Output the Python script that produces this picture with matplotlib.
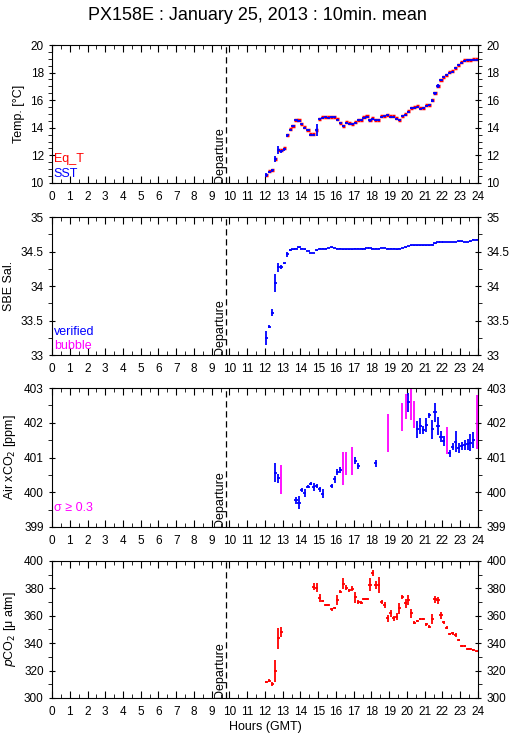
import numpy as np
import matplotlib
matplotlib.use("Agg")
import matplotlib.pyplot as plt
from matplotlib.ticker import MultipleLocator, FormatStrFormatter

plt.rcParams['font.family'] = ['Liberation Sans', 'DejaVu Sans']

nan = np.nan

# 10 min bin centres (hours GMT)
hours = [12.08, 12.25, 12.42, 12.58, 12.75, 12.92, 13.08, 13.25, 13.42, 13.58, 13.75, 13.92,
         14.08, 14.25, 14.42, 14.58, 14.75, 14.92, 15.08, 15.25, 15.42, 15.58, 15.75, 15.92,
         16.08, 16.25, 16.42, 16.58, 16.75, 16.92, 17.08, 17.25, 17.42, 17.58, 17.75, 17.92,
         18.08, 18.25, 18.42, 18.58, 18.75, 18.92, 19.08, 19.25, 19.42, 19.58, 19.75, 19.92,
         20.08, 20.25, 20.42, 20.58, 20.75, 20.92, 21.08, 21.25, 21.42, 21.58, 21.75, 21.92,
         22.08, 22.25, 22.42, 22.58, 22.75, 22.92, 23.08, 23.25, 23.42, 23.58, 23.75, 23.92]
departure = 9.83

sst = [10.56, 10.80, 10.92, 11.72, 12.37, 12.30, 12.45, 13.46, 13.87, 14.12,
       14.55, 14.50, 14.24, 14.00, 13.83, 13.50, 13.50, 13.83, 14.62, 14.70,
       14.75, 14.72, 14.75, 14.75, 14.60, 14.33, 14.12, 14.36, 14.30, 14.26,
       14.36, 14.55, 14.55, 14.70, 14.80, 14.55, 14.65, 14.55, 14.55, 14.77,
       14.84, 14.90, 14.77, 14.77, 14.67, 14.55, 14.82, 14.94, 15.16, 15.40,
       15.47, 15.50, 15.38, 15.40, 15.60, 15.64, 15.96, 16.49, 17.02, 17.46,
       17.65, 17.82, 17.99, 18.06, 18.30, 18.55, 18.72, 18.84, 18.89, 18.91,
       18.93, 18.93]
sst_err = [0.15, 0.07, 0.12, 0.2, 0.3, 0.1, 0.1, 0.12, 0.05, 0.05,
           0.05, 0.05, 0.07, 0.05, 0.07, 0.05, 0.05, 0.45, 0.05, 0.05,
           0.05, 0.04, 0.04, 0.04, 0.05, 0.05, 0.07, 0.05, 0.04, 0.04,
           0.04, 0.04, 0.04, 0.04, 0.05, 0.1, 0.05, 0.05, 0.04, 0.04,
           0.04, 0.04, 0.04, 0.04, 0.05, 0.05, 0.05, 0.05, 0.07, 0.07,
           0.05, 0.04, 0.05, 0.05, 0.05, 0.05, 0.1, 0.12, 0.15, 0.07,
           0.05, 0.05, 0.05, 0.05, 0.07, 0.05, 0.05, 0.04, 0.04, 0.04,
           0.04, 0.04]
eqt = [10.60, 10.84, 10.96, 11.75, 12.40, 12.36, 12.50, 13.50, 13.90, 14.15,
       14.58, 14.55, 14.30, 14.04, 13.86, 13.55, 13.55, 13.86, 14.66, 14.76,
       14.80, 14.77, 14.80, 14.80, 14.66, 14.38, 14.16, 14.40, 14.34, 14.30,
       14.40, 14.60, 14.60, 14.75, 14.85, 14.59, 14.68, 14.59, 14.59, 14.82,
       14.89, 14.95, 14.82, 14.82, 14.71, 14.59, 14.86, 14.98, 15.20, 15.44,
       15.52, 15.55, 15.42, 15.44, 15.65, 15.68, 15.99, 16.52, 17.05, 17.49,
       17.68, 17.85, 18.02, 18.09, 18.33, 18.58, 18.76, 18.88, 18.93, 18.94,
       18.95, 18.95]

sal = [33.25, 33.41, 33.61, 34.04, 34.27, 34.27, 34.33, 34.46, 34.52, 34.53,
       34.54, 34.56, 34.54, 34.53, 34.51, 34.48, 34.48, 34.52, 34.54, 34.54,
       34.54, 34.55, 34.56, 34.55, 34.54, 34.54, 34.53, 34.53, 34.53, 34.53,
       34.54, 34.54, 34.54, 34.54, 34.55, 34.55, 34.54, 34.54, 34.54, 34.55,
       34.55, 34.54, 34.54, 34.54, 34.53, 34.54, 34.55, 34.56, 34.58, 34.59,
       34.59, 34.59, 34.59, 34.59, 34.59, 34.59, 34.60, 34.62, 34.64, 34.64,
       34.64, 34.64, 34.64, 34.64, 34.64, 34.65, 34.65, 34.64, 34.64, 34.65,
       34.67, 34.67]
sal_err = [0.1, 0.02, 0.05, 0.13, 0.07, 0.03, 0.005, 0.04, 0.01] + [0.005] * 63

xco2 = [nan, nan, nan, 400.56, 400.40, 400.37, nan, nan, nan, nan,
        399.77, 399.70, 400.06, 399.98, 400.16, 400.25, 400.16, 400.18, 400.08, 399.96,
        nan, nan, 400.18, 400.37, 400.59, 400.64, 400.69, 400.83, nan, 400.90,
        400.91, 400.75, nan, nan, nan, nan, nan, 400.83, nan, nan,
        nan, 401.70, nan, nan, nan, nan, 402.16, 402.47, 402.59, 402.55,
        402.25, 401.81, 401.91, 401.80, 401.94, 402.21, 401.81, 402.30, 401.91, 401.60,
        401.48, 401.50, 401.12, 401.31, 401.46, 401.28, 401.33, 401.36, 401.38, 401.43,
        401.50, 402.02]
xco2_err = [0, 0, 0, 0.27, 0.13, 0.42, 0, 0, 0, 0,
            0.1, 0.19, 0.05, 0.12, 0.05, 0.05, 0.12, 0.05, 0.06, 0.14,
            0, 0, 0.05, 0.1, 0.08, 0.1, 0.48, 0.34, 0, 0.4,
            0.1, 0.08, 0, 0, 0, 0, 0, 0.1, 0, 0,
            0, 0.55, 0, 0, 0, 0, 0.4, 0.35, 0.27, 0.46,
            0.39, 0.24, 0.22, 0.12, 0.2, 0.07, 0.28, 0.28, 0.27, 0.15,
            0.15, 0.39, 0.1, 0.1, 0.29, 0.15, 0.12, 0.15, 0.15, 0.24,
            0.24, 0.77]

pco2 = [311.6, 312.6, 310.4, 319.4, 343.6, 347.9, nan, nan, nan, nan,
        nan, nan, nan, nan, nan, nan, 381.1, 380.6, 373.1, 370.7,
        367.6, 367.6, 364.6, 365.9, 371.4, 377.7, 383.5, 380.6, 378.7, 379.9,
        373.4, 370.2, 369.5, 372.2, 372.2, 382.8, 391.3, 382.3, 382.3, 370.2,
        367.8, 358.1, 361.7, 358.1, 359.3, 365.4, 373.8, 369.0, 371.4, 361.7,
        355.0, 356.2, 357.6, 357.6, 353.8, 352.1, 357.6, 371.9, 371.4, 360.5,
        355.2, 351.3, 346.7, 347.2, 346.2, 342.4, 338.0, 338.0, 335.6, 335.6,
        335.1, 334.1]
pco2_err = [1, 1, 1.5, 8, 7.5, 3.6, 0, 0, 0, 0,
            0, 0, 0, 0, 0, 0, 2.5, 3, 3, 1,
            0.8, 0.8, 0.8, 0.8, 3.6, 1, 4, 1.5, 1, 2,
            4, 1.5, 1, 1, 1, 5, 2, 3, 6, 1.5,
            2, 2.5, 2.5, 2, 2.5, 4, 1.5, 3, 3.5, 3,
            1, 1, 1, 0.8, 1, 1, 3.5, 2.5, 2.5, 2.5,
            1, 1, 0.8, 1, 1.5, 1, 0.8, 0.8, 0.8, 0.8,
            0.5, 0.5]

BLUE = '#0000ff'
RED = '#ff0000'
MAG = '#ff00ff'
half = 0.09

fig = plt.figure(figsize=(5.15, 7.39), dpi=100)
boxes = [(0.7524, 0.1867), (0.5196, 0.1867), (0.2869, 0.188), (0.0555, 0.1854)]
axes = [fig.add_axes([0.101, b, 0.827, h]) for b, h in boxes]

h = np.array(hours)

def setup(ax, lo, hi, major, minor, fmt, label):
    ax.set_xlim(0, 24)
    ax.set_ylim(lo, hi)
    ax.xaxis.set_major_locator(MultipleLocator(1))
    ax.xaxis.set_minor_locator(MultipleLocator(0.5))
    ax.yaxis.set_major_locator(MultipleLocator(major))
    ax.yaxis.set_minor_locator(MultipleLocator(minor))
    ax.yaxis.set_major_formatter(FormatStrFormatter(fmt))
    ax.tick_params(axis='x', which='both', direction='in', top=True, bottom=True, labelsize=8.5, pad=6)
    ax.tick_params(axis='x', which='major', length=5)
    ax.tick_params(axis='x', which='minor', length=3)
    ax.tick_params(axis='y', which='both', direction='out', left=True, right=True,
                   labelleft=True, labelright=True, labelsize=8.5)
    ax.tick_params(axis='y', which='major', length=5, direction='inout')
    ax.tick_params(axis='y', which='minor', length=3)
    ax.set_ylabel(label, fontsize=9, labelpad=4)
    ax.axvline(departure, color='black', lw=0.9, ls=(0, (5, 3)))
    ax.text(departure - 0.05, lo, 'Departure', rotation=90, ha='right', va='bottom', fontsize=9)

# Temperature
ax = axes[0]
setup(ax, 10, 20, 2, 0.5, '%g', 'Temp. [°C]')
ax.hlines(eqt, h - half, h + half, colors=RED, lw=2.5)
ax.errorbar(h, sst, xerr=half, yerr=sst_err, fmt='none', ecolor=BLUE, elinewidth=1.3, capsize=0)
ax.text(0.1, 11.3, 'Eq_T', color=RED, fontsize=9, va='bottom')
ax.text(0.1, 10.2, 'SST', color=BLUE, fontsize=9, va='bottom')

# Salinity
ax = axes[1]
setup(ax, 33, 35, 0.5, 0.25, '%g', 'SBE Sal.')
ax.errorbar(h, sal, xerr=half, yerr=sal_err, fmt='none', ecolor=BLUE, elinewidth=1.3, capsize=0)
ax.text(0.1, 33.25, 'verified', color=BLUE, fontsize=9, va='bottom')
ax.text(0.1, 33.05, 'bubble', color=MAG, fontsize=9, va='bottom')

# Air xCO2
ax = axes[2]
setup(ax, 399, 403, 1, 0.5, '%g', 'Air xCO$_2$ [ppm]')
xe = np.array(xco2_err)
xv = np.array(xco2)
hi_sig = xe >= 0.3
ax.errorbar(h[~hi_sig], xv[~hi_sig], xerr=half, yerr=xe[~hi_sig], fmt='none',
            ecolor=BLUE, elinewidth=1.3, capsize=0)
ax.errorbar(h[hi_sig], xv[hi_sig], yerr=xe[hi_sig], fmt='none',
            ecolor=MAG, elinewidth=1.3, capsize=0)
ax.text(0.1, 399.55, 'σ ≥ 0.3', color=MAG, fontsize=9, va='center')

# pCO2
ax = axes[3]
setup(ax, 300, 400, 20, 10, '%g', r'$\it{p}$CO$_2$ [μ atm]')
ax.errorbar(h, pco2, xerr=half, yerr=pco2_err, fmt='none', ecolor=RED, elinewidth=1.3, capsize=0)
ax.set_xlabel('Hours (GMT)', fontsize=9, labelpad=2)

fig.suptitle('PX158E : January 25, 2013 : 10min. mean', fontsize=13, y=0.99)

fig.savefig('out.png', dpi=100)
